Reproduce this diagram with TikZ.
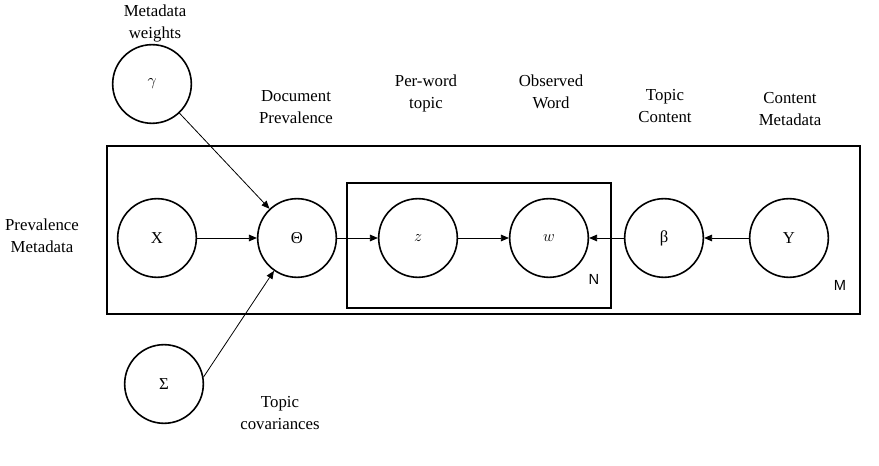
\documentclass[tikz,border=0pt]{standalone}
\usepackage{fontspec}
\setmainfont{Liberation Serif}
\newfontfamily\labsans{Liberation Sans}
\usetikzlibrary{arrows.meta}
\begin{document}
\begin{tikzpicture}[x=0.75pt,y=-0.75pt,
  var/.style={circle,draw,line width=1.2pt,minimum size=59pt,inner sep=0pt,font=\fontsize{12.5}{14}\selectfont},
  lab/.style={align=center,font=\fontsize{12.6}{16.5}\selectfont,inner sep=0pt},
  plate/.style={draw,line width=1.5pt},
  edge/.style={-{Triangle[length=6pt,width=5pt]},line width=0.6pt}]
\useasboundingbox (0,0) rectangle (879,466);
\draw[plate] (107,146) rectangle (860,314);
\draw[plate] (347,183) rectangle (611,308);
\node[var] (g) at (152,84) {$\gamma$};
\node[var] (X) at (157,238) {X};
\node[var] (T) at (297,238) {Θ};
\node[var] (z) at (418,238) {$z$};
\node[var] (w) at (549,238) {$w$};
\node[var] (b) at (664,238) {β};
\node[var] (Y) at (789,238) {Y};
\node[var] (S) at (164,384) {Σ};
\node[lab] (lg) at (155,23) {Metadata\\weights};
\node[lab] (lT) at (296,107) {Document\\Prevalence};
\node[lab] (lz) at (426,93) {Per-word\\topic};
\node[lab] (lw) at (551,92) {Observed\\Word};
\node[lab] (lb) at (665,106) {Topic\\Content};
\node[lab] (lY) at (790,109) {Content\\Metadata};
\node[lab] (lX) at (42,236) {Prevalence\\Metadata};
\node[lab] (lS) at (280,413) {Topic\\covariances};
\node[font=\labsans\fontsize{11}{12}\selectfont] (N) at (594,279) {N};
\node[font=\labsans\fontsize{11}{12}\selectfont] (M) at (840,285) {M};
\draw[edge] (X) -- (T);
\draw[edge] (g) -- (T);
\draw[edge] (S.10) -- (T.235);
\draw[edge] (T) -- (z);
\draw[edge] (z) -- (w);
\draw[edge] (b) -- (w);
\draw[edge] (Y) -- (b);
\end{tikzpicture}
\end{document}
